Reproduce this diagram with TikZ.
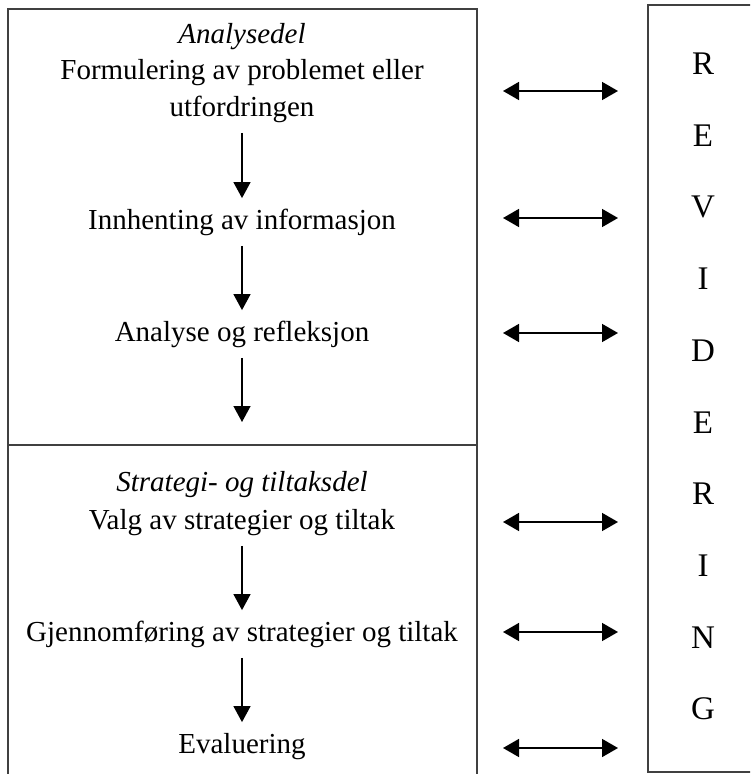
\documentclass[tikz,border=0pt]{standalone}
\usepackage{fontspec}
\setmainfont{Liberation Serif}
\usetikzlibrary{arrows.meta}

\begin{document}
\begin{tikzpicture}[x=0.5pt, y=-0.5pt,
			txt/.style={inner sep=0pt, text height=10.9pt, text depth=3.6pt, font=\fontsize{14.5}{17}\selectfont},
			head/.style={txt, font=\fontsize{14.5}{17}\selectfont\itshape},
			letter/.style={inner sep=0pt, text height=11.5pt, text depth=0pt, font=\fontsize{16.5}{19}\selectfont},
			frame/.style={line width=1pt, draw=black!75},
			flow/.style={-{Triangle[length=8pt,width=8.5pt]}, line width=0.7pt, shorten <=4.5pt, shorten >=4.5pt},
			link/.style={{Triangle[length=8pt,width=9pt]}-{Triangle[length=8pt,width=9pt]}, line width=0.8pt}]
			\clip (0,0) rectangle (750,774);
			% boxes
			\draw[frame] (7.5,780) -- (7.5,9.5) -- (477,9.5) -- (477,780);
			\draw[frame] (7.5,445) -- (477,445);
			\draw[frame] (760,5) -- (648,5) -- (648,772) -- (760,772);
			% analysis part
			\node[head] (ana) at (242,36) {Analysedel};
			\node[txt] (form) at (242,72) {Formulering av problemet eller};
			\node[txt] (utf) at (242,109) {utfordringen};
			\node[txt] (innh) at (242,222) {Innhenting av informasjon};
			\node[txt] (refl) at (242,334) {Analyse og refleksjon};
			\coordinate (cut) at (242,422);
			% strategy part
			\node[head] (strat) at (242,484) {Strategi- og tiltaksdel};
			\node[txt] (valg) at (242,522) {Valg av strategier og tiltak};
			\node[txt] (gjen) at (242,634) {Gjennomføring av strategier og tiltak};
			\node[txt] (eval) at (242,746) {Evaluering};
			% revision letters
			\foreach \ch [count=\i from 0] in {R,E,V,I,D,E,R,I,N,G}
				\node[letter] (rev\i) at (703,63+71.7*\i) {\ch};
			\begin{scope}
				\draw[flow] (utf.south) -- (innh.north);
				\draw[flow] (innh.south) -- (refl.north);
				\draw[flow, shorten >=0pt] (refl.south) -- (cut);
				\draw[flow] (valg.south) -- (gjen.north);
				\draw[flow] (gjen.south) -- (eval.north);
			\end{scope}
			\begin{scope}
				\foreach \y [count=\j] in {91,218,333,522,632,748} {
					\coordinate (ll\j) at (503,\y);
					\coordinate (rr\j) at (618,\y);
					\draw[link] (ll\j) -- (rr\j);
				}
			\end{scope}
		\end{tikzpicture}
\end{document}
